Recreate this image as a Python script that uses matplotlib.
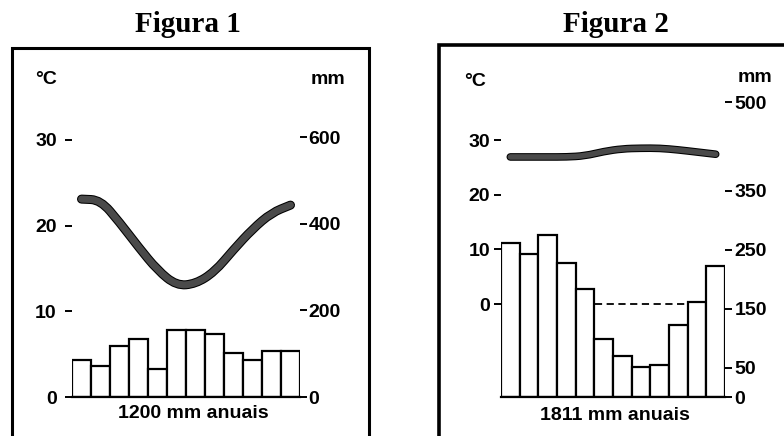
import matplotlib
matplotlib.use('Agg')
import matplotlib.pyplot as plt
import matplotlib.patheffects as pe
from matplotlib.patches import Rectangle, PathPatch
from matplotlib.path import Path

meses = list(range(12))

# Figura 1
temp_fig1 = [23.1, 23.0, 20.4, 17.5, 14.8, 13.0, 13.2, 14.6, 17.2, 19.6, 21.5, 22.4]
chuva_fig1 = [85, 71, 117, 135, 65, 155, 155, 146, 102, 86, 107, 107]
ticks_temp_fig1 = [0, 10, 20, 30]
ticks_chuva_fig1 = [0, 200, 400, 600]
total_fig1 = '1200 mm anuais'

# Figura 2
temp_fig2 = [26.9, 26.9, 26.9, 26.9, 27.1, 27.9, 28.4, 28.5, 28.5, 28.2, 27.8, 27.4]
chuva_fig2 = [261, 242, 275, 227, 183, 98, 69, 51, 54, 122, 161, 222]
ticks_temp_fig2 = [0, 10, 20, 30]
ticks_chuva_fig2 = [0, 50, 150, 250, 350, 500]
total_fig2 = '1811 mm anuais'

W, H = 784, 436
FONTE = 'Liberation Sans'


def fx(px):
    return px / W


def fy(py):
    return 1 - py / H


def curva_suave(x, y):
    # curva quadrática passando pelos pontos médios (só para o desenho ficar liso)
    verts = [(x[0], y[0]), ((x[0] + x[1]) / 2, (y[0] + y[1]) / 2)]
    codes = [Path.MOVETO, Path.LINETO]
    for i in range(1, len(x) - 1):
        verts += [(x[i], y[i]), ((x[i] + x[i + 1]) / 2, (y[i] + y[i + 1]) / 2)]
        codes += [Path.CURVE3, Path.CURVE3]
    verts.append((x[-1], y[-1]))
    codes.append(Path.LINETO)
    return Path(verts, codes)


def climograma(fig, box, temp, chuva, tt, tc, ylim_t, ylim_c, lw_temp, pad_l, pad_r, tracejado=False):
    x0, y0, x1, y1 = box
    ax = fig.add_axes([fx(x0), fy(y1), (x1 - x0) / W, (y1 - y0) / H])
    ax2 = ax.twinx()

    # barras de precipitação (eixo direito)
    ax2.bar(meses, chuva, width=1.0, color='white', edgecolor='black', linewidth=1.6, zorder=2)
    ax2.set_ylim(*ylim_c)
    ax2.set_yticks(tc)

    # linha de temperatura (eixo esquerdo)
    linha = PathPatch(curva_suave(meses, temp), fill=False, edgecolor='#4a4a4a', linewidth=lw_temp,
                      capstyle='round', joinstyle='round',
                      path_effects=[pe.Stroke(linewidth=lw_temp + 1.5, foreground='black'), pe.Normal()])
    ax.add_patch(linha)
    if tracejado:
        ax.axhline(0, color='black', linewidth=1.3, linestyle=(0, (4, 2.5)), zorder=0)
    ax.set_ylim(*ylim_t)
    ax.set_yticks(tt)
    ax.set_xlim(-0.5, 11.5)
    ax.set_xticks([])

    for a in (ax, ax2):
        for s in a.spines.values():
            s.set_visible(False)
    ax2.spines['bottom'].set_visible(True)
    ax2.spines['bottom'].set_linewidth(1.6)

    ax.tick_params(axis='y', direction='out', length=5, width=1.4, pad=pad_l, labelsize=14)
    ax2.tick_params(axis='y', direction='out', length=5, width=1.4, pad=pad_r, labelsize=14)
    for lab in ax.get_yticklabels() + ax2.get_yticklabels():
        lab.set_fontfamily(FONTE)
        lab.set_fontweight('bold')
    return ax, ax2


fig = plt.figure(figsize=(W / 100, H / 100), dpi=100)

# Figura 1
climograma(fig, (72, 137, 300, 397), temp_fig1, chuva_fig1, ticks_temp_fig1, ticks_chuva_fig1,
           (0, 30.35), (0, 600), 5.0, 6, 1)
# Figura 2
climograma(fig, (501, 102, 725, 397), temp_fig2, chuva_fig2, ticks_temp_fig2, ticks_chuva_fig2,
           (-17.0, 36.95), (0, 500), 4.0, 3, 2, tracejado=True)

# molduras
fig.add_artist(Rectangle((fx(12), fy(446)), (369 - 12) / W, (446 - 48) / H,
                         transform=fig.transFigure, fill=False, lw=2.2, ec='black'))
fig.add_artist(Rectangle((fx(439), fy(446)), (800 - 439) / W, (446 - 45) / H,
                         transform=fig.transFigure, fill=False, lw=2.6, ec='black'))

# títulos
fig.text(fx(188), fy(25), 'Figura 1', ha='center', va='center', fontsize=21,
         fontweight='bold', fontfamily='Liberation Serif')
fig.text(fx(616), fy(25), 'Figura 2', ha='center', va='center', fontsize=21,
         fontweight='bold', fontfamily='Liberation Serif')

# unidades
kw = dict(fontsize=14, fontweight='bold', fontfamily=FONTE, va='center')
fig.text(fx(35), fy(80), '°C', ha='left', **kw)
fig.text(fx(345), fy(80), 'mm', ha='right', **kw)
fig.text(fx(464), fy(82), '°C', ha='left', **kw)
fig.text(fx(772), fy(78), 'mm', ha='right', **kw)

# total anual
fig.text(fx(193), fy(413), total_fig1, ha='center', va='center', fontsize=14,
         fontweight='bold', fontfamily=FONTE)
fig.text(fx(615), fy(415), total_fig2, ha='center', va='center', fontsize=14,
         fontweight='bold', fontfamily=FONTE)

fig.savefig('out.png', dpi=100)
